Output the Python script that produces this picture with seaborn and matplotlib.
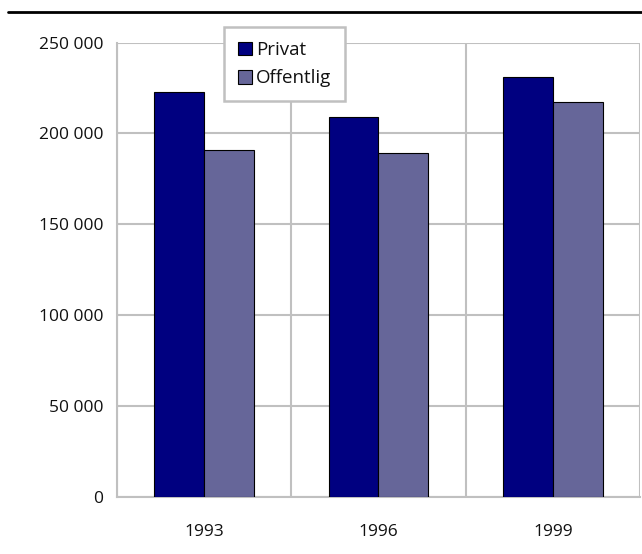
import matplotlib
matplotlib.use("Agg")
import matplotlib.pyplot as plt
import matplotlib.ticker as mticker
from matplotlib.lines import Line2D
import pandas as pd
import seaborn as sns

years = ["1993", "1996", "1999"]
privat = [223000, 209000, 231000]
offentlig = [191000, 189000, 217500]
series_names = ["Privat", "Offentlig"]
colors = ["#000080", "#666699"]

df = pd.DataFrame({
    "year": years * 2,
    "value": privat + offentlig,
    "series": [series_names[0]] * 3 + [series_names[1]] * 3,
})

sns.set_style("white")
plt.rcParams["font.family"] = ["Open Sans", "DejaVu Sans"]
plt.rcParams["font.size"] = 12.5

fig = plt.figure(figsize=(6.42, 5.54), dpi=100)
ax = fig.add_axes([0.1822, 0.1034, 0.8147, 0.8196])

sns.barplot(data=df, x="year", y="value", hue="series", palette=colors, saturation=1,
            width=0.57, edgecolor="black", linewidth=0.8, ax=ax, zorder=3)

grid_c = "#c0c0c0"
txt_c = "#111111"
ax.set_xlim(-0.5, 2.5)
ax.set_ylim(0, 250000)
ax.yaxis.set_major_locator(mticker.MultipleLocator(50000))
ax.yaxis.set_major_formatter(mticker.FuncFormatter(lambda v, p: f"{int(v):,}".replace(",", " ")))
ax.grid(axis="y", color=grid_c, linewidth=1.5, zorder=0)

# category boundaries as major ticks/gridlines, labels in the middle
ax.set_xticks([-0.5, 0.5, 1.5, 2.5])
ax.set_xticklabels([])
ax.set_xticks([0, 1, 2], minor=True)
ax.set_xticklabels(years, minor=True)
ax.xaxis.grid(True, which="major", color=grid_c, linewidth=1.5, zorder=0)
ax.tick_params(axis="x", which="major", length=8, width=1.5, color=grid_c, direction="out")
ax.tick_params(axis="x", which="minor", length=0, pad=20, labelsize=12.5, colors=txt_c)
ax.tick_params(axis="y", length=6, width=1.5, color=grid_c, direction="out", pad=4,
               labelsize=12.5, colors=txt_c)

for s in ["top", "right"]:
    ax.spines[s].set_visible(False)
for s in ["left", "bottom"]:
    ax.spines[s].set_color(grid_c)
    ax.spines[s].set_linewidth(1.5)

ax.set_xlabel("")
ax.set_ylabel("")

handles = [plt.Rectangle((0, 0), 1, 1, facecolor=c, edgecolor="black", linewidth=0.8) for c in colors]
leg = ax.legend(handles, series_names, loc="upper left", bbox_to_anchor=(224 / 642, 1 - 27 / 554),
                bbox_transform=fig.transFigure, frameon=True, fancybox=False, framealpha=1,
                edgecolor=grid_c, handlelength=0.75, handleheight=0.75, handletextpad=0.2,
                labelspacing=0.55, borderpad=0.75, fontsize=13.5, borderaxespad=0)
leg.get_frame().set_linewidth(1.8)
leg.set_zorder(5)
for t in leg.get_texts():
    t.set_color(txt_c)

fig.add_artist(Line2D([8 / 642, 1], [1 - 12 / 554, 1 - 12 / 554], color="black", linewidth=2))

fig.savefig("out.png", dpi=100)
